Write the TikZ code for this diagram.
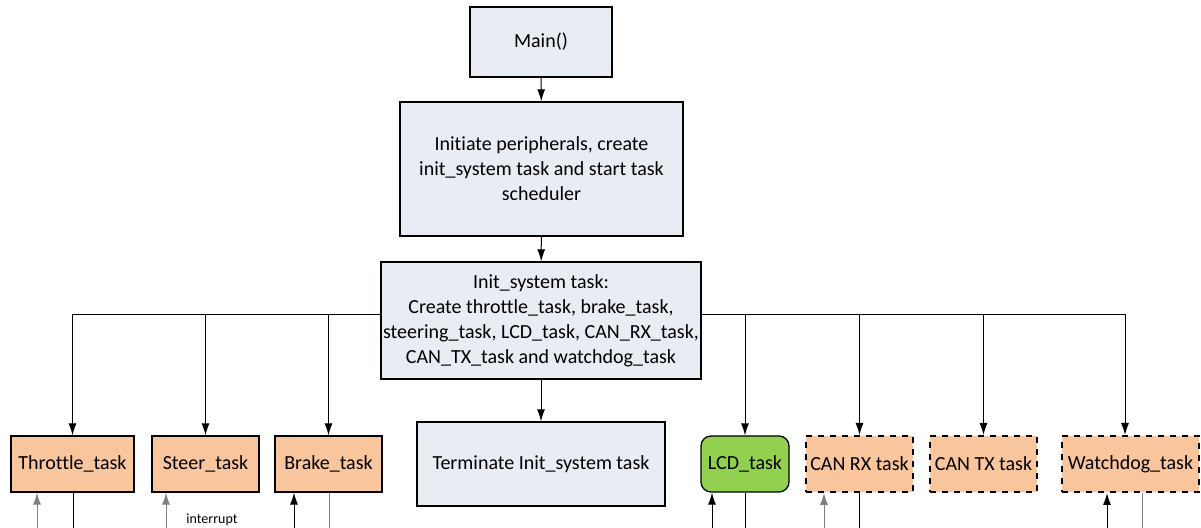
\documentclass[tikz,border=0pt]{standalone}
\usepackage{fontspec}
\setmainfont{Carlito}[Ligatures=NoCommon]
\usetikzlibrary{arrows.meta}
\definecolor{boxblue}{HTML}{E8ECF3}
\definecolor{taskorange}{HTML}{F8C59C}
\definecolor{lcdgreen}{HTML}{92D050}
\definecolor{wiregray}{HTML}{808080}

\tikzset{
    flowbox/.style={draw, fill=boxblue, line width=0.65pt, align=center, inner sep=2pt},
    taskbox/.style={draw, fill=taskorange, line width=0.65pt, minimum width=53.5pt, minimum height=28pt, inner sep=1pt},
    dashtask/.style={taskbox, dashed, line width=1pt},
    lcdbox/.style={taskbox, fill=lcdgreen, rounded corners=5pt, minimum width=44pt},
    wire/.style={line width=0.5pt},
    >={Latex[length=6pt,width=4pt]},
}

\begin{document}
\begin{tikzpicture}[x=0.5pt, y=-0.5pt, font=\fontsize{10}{12.5}\selectfont]
            \useasboundingbox (0,0) rectangle (1201,528);

            % start-up chain
            \node[flowbox, minimum width=71pt, minimum height=35pt] (main) at (541, 42) {Main()};
            \node[flowbox, minimum width=141.5pt, minimum height=67pt] (init) at (541.5, 169)
                {Initiate peripherals, create\\ init\_system task and start task\\ scheduler};
            \node[flowbox, minimum width=160pt, minimum height=58.5pt, inner sep=0pt] (initsys) at (541, 320.5)
                {Init\_system task:\\ Create throttle\_task, brake\_task,\\ steering\_task, LCD\_task, CAN\_RX\_task,\\ CAN\_TX\_task and watchdog\_task};
            \node[flowbox, minimum width=124pt, minimum height=42pt] (term) at (541, 464) {Terminate Init\_system task};

            % tasks
            \node[taskbox, minimum width=61.5pt] (throttle) at (72.5, 464) {Throttle\_task};
            \node[taskbox] (steer) at (205.5, 464) {Steer\_task};
            \node[taskbox] (brake) at (328.5, 464) {Brake\_task};
            \node[lcdbox] (lcd) at (745, 464) {LCD\_task};
            \node[dashtask] (canrx) at (859.5, 464) {CAN RX task};
            \node[dashtask] (cantx) at (983.5, 464) {CAN TX task};
            \node[dashtask, minimum width=68.5pt] (watchdog) at (1130.5, 464) {Watchdog\_task};

            \draw[wire,->] (main) -- (init);
            \draw[wire,->] (init) -- (initsys);
            \draw[wire,->] (initsys) -- (term);

            \draw[wire,->] ([yshift=2.75pt]initsys.west) -| (throttle.north);
            \draw[wire,->] ([yshift=2.75pt]initsys.west) -| (steer.north);
            \draw[wire,->] ([yshift=2.75pt]initsys.west) -| (brake.north);
            \draw[wire,->] ([yshift=2.75pt]initsys.east) -| (lcd.north);
            \draw[wire,->] ([yshift=2.75pt]initsys.east) -| (canrx.north);
            \draw[wire,->] ([yshift=2.75pt]initsys.east) -| (cantx.north);
            \draw[wire,->] ([yshift=2.75pt]initsys.east) -| ([xshift=-2.75pt]watchdog.north);

            % loops running off the bottom edge
            \coordinate (thr-in)  at (37, 528);
            \coordinate (thr-out) at (73, 528);
            \coordinate (str-in)  at (166, 528);
            \coordinate (brk-in)  at (294, 528);
            \coordinate (brk-out) at (329, 528);
            \coordinate (lcd-in)  at (712, 528);
            \coordinate (lcd-out) at (745, 528);
            \coordinate (rx-in)   at (824, 528);
            \coordinate (rx-out)  at (859, 528);
            \coordinate (wd-in)   at (1107, 528);
            \coordinate (wd-out)  at (1142, 528);

            \draw[wire,wiregray,->] (thr-in) -- (thr-in |- throttle.south);
            \draw[wire] (throttle.south -| thr-out) -- (thr-out);
            \draw[wire,wiregray,->] (str-in) -- (str-in |- steer.south);
            \draw[wire,->] (brk-in) -- (brk-in |- brake.south);
            \draw[wire,wiregray] (brake.south -| brk-out) -- (brk-out);
            \draw[wire,->] (lcd-in) -- (lcd-in |- lcd.south);
            \draw[wire] (lcd.south -| lcd-out) -- (lcd-out);
            \draw[wire,wiregray,->] (rx-in) -- (rx-in |- canrx.south);
            \draw[wire] (canrx.south -| rx-out) -- (rx-out);
            \draw[wire,->] (wd-in) -- (wd-in |- watchdog.south);
            \draw[wire,wiregray] (watchdog.south -| wd-out) -- (wd-out);

            \node[font=\fontsize{7}{8}\selectfont, inner sep=0pt] (irq) at (212, 520) {interrupt};
        \end{tikzpicture}
\end{document}
